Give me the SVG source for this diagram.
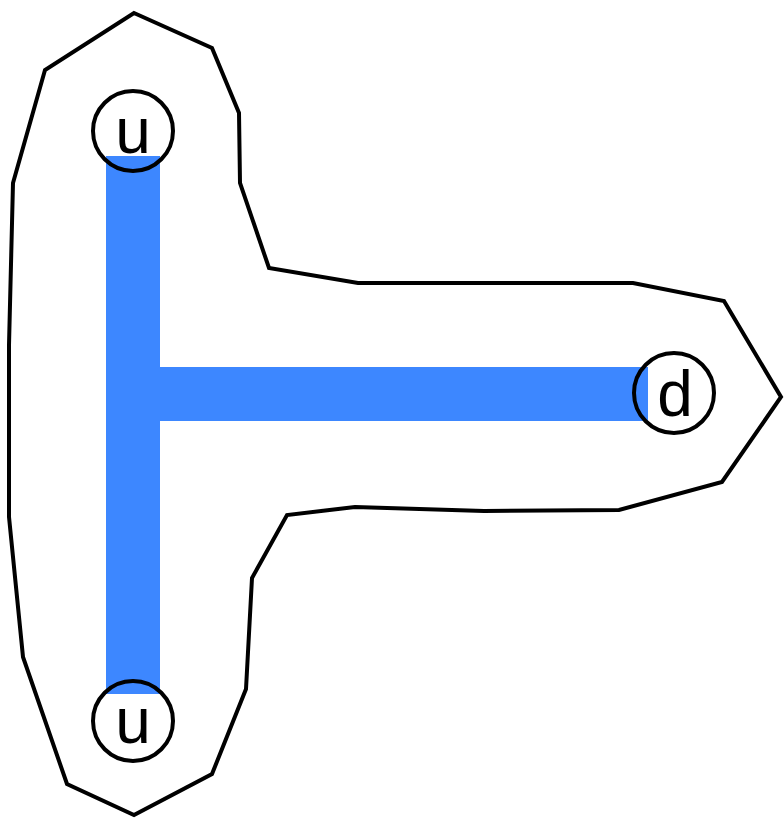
<svg xmlns="http://www.w3.org/2000/svg" width="784" height="821" viewBox="0 0 784 821">
  <style>
    .hull { fill: none; stroke: #000; stroke-width: 4; stroke-linejoin: miter; }
    .edge { fill: #3d87ff; }
    .node circle { fill: none; stroke: #000; stroke-width: 4; }
    .node text { font-family: "Liberation Sans", Arial, sans-serif; font-size: 64px; fill: #000; text-anchor: middle; }
  </style>
  <rect width="784" height="821" fill="#fff"/>
  <!-- region outline -->
  <polygon class="hull" points="134,13 212,48 239,113 240,183 269,268 358,283 633,283 724,301 781,397 722,482 619,510 484,511 355,507 287,515 252,578 246,689 212,774 134,815 67,784 23,657 9,517 9,345 13,183 45,70"/>
  <!-- connectors -->
  <g id="connectors">
    <rect class="edge" x="106" y="156" width="54" height="538"/>
    <rect class="edge" x="160" y="367" width="488" height="54"/>
  </g>
  <g id="node-u-top" class="node">
    <circle cx="133" cy="131" r="40"/>
    <text x="133" y="153">u</text>
  </g>
  <g id="node-u-bottom" class="node">
    <circle cx="133" cy="721" r="40"/>
    <text x="133" y="743">u</text>
  </g>
  <g id="node-d" class="node">
    <circle cx="674" cy="393" r="40"/>
    <text x="675" y="416">d</text>
  </g>
</svg>
